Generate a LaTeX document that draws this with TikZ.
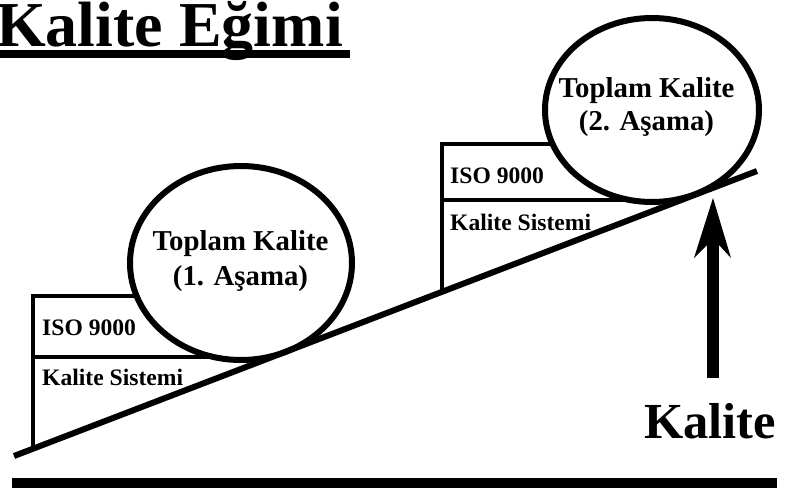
\documentclass[tikz,border=0pt]{standalone}
\usepackage{fontspec}
\setmainfont{Liberation Serif}
\usetikzlibrary{shapes.geometric}
\begin{document}
\begin{tikzpicture}[x=1pt,y=-1pt,
  boxline/.style={line width=4.3pt,line join=miter,line cap=butt},
  bubble/.style={ellipse,draw,fill=white,line width=6pt,inner sep=0pt},
  bubbletext/.style={anchor=base,inner sep=0pt,font=\bfseries\fontsize{28.8}{28.8}\selectfont},
  smalltext/.style={anchor=base west,inner sep=0pt,font=\bfseries\fontsize{23.6}{23.6}\selectfont},
  slope/.style={line width=6pt,line cap=butt}]
\useasboundingbox (0,0) rectangle (785,490);
% title
\node[anchor=base west,inner sep=0pt,font=\bfseries\fontsize{64}{64}\selectfont] (title) at (-4,46) {Kalite Eğimi};
\fill (0,50) rectangle (350,58);
% bottom bar
\fill (12,478) rectangle (777,488);
% slope coordinates
\coordinate (s0) at (14,456);
\coordinate (s1) at (757,171);
% left box
\coordinate (a1) at (33,449);
\coordinate (a2) at (33,296);
\coordinate (a3) at (160,296);
\coordinate (a4) at (33,357);
\coordinate (a5) at (271,357);
\draw[boxline] (a1) -- (a2) -- (a3);
\draw[boxline] (a4) -- (a5);
% right box
\coordinate (b1) at (442,292);
\coordinate (b2) at (442,144);
\coordinate (b3) at (580,144);
\coordinate (b4) at (442,200);
\coordinate (b5) at (682,200);
\draw[boxline] (b1) -- (b2) -- (b3);
\draw[boxline] (b4) -- (b5);
% bubbles
\node[bubble,minimum width=222pt,minimum height=194pt] (c1) at (241,263) {};
\node[bubble,minimum width=214pt,minimum height=184pt] (c2) at (652,110) {};
\node[bubbletext] (t1a) at (240.5,250) {Toplam Kalite};
\node[bubbletext] (t1b) at (240.5,285) {(1. Aşama)};
\node[bubbletext] (t2a) at (646.5,97) {Toplam Kalite};
\node[bubbletext] (t2b) at (646.5,130) {(2. Aşama)};
% box labels
\node[smalltext] (l1) at (42,335) {ISO 9000};
\node[smalltext] (l2) at (42,385) {Kalite Sistemi};
\node[smalltext] (r1) at (450,183) {ISO 9000};
\node[smalltext] (r2) at (450,230) {Kalite Sistemi};
% slope
\draw[slope] (s0) -- (s1);
% arrow
\coordinate (p0) at (713,378);
\coordinate (p1) at (713,244);
\draw[line width=12pt] (p0) -- (p1);
\fill (713,198) -- (731,258) -- (719,245) -- (707,245) -- (694,258) -- cycle;
\node[anchor=base west,inner sep=0pt,font=\bfseries\fontsize{50.5}{50.5}\selectfont] (kal) at (644,438) {Kalite};
\end{tikzpicture}
\end{document}
